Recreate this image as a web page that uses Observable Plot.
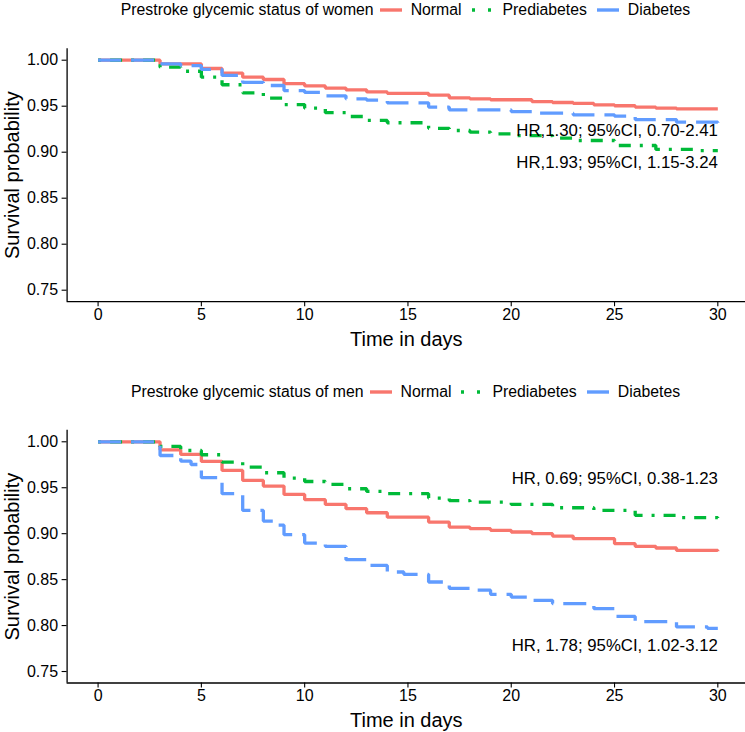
<!DOCTYPE html>
<html>
<head>
<meta charset="utf-8">
<script src="https://cdn.jsdelivr.net/npm/d3@7"></script>
<script src="https://cdn.jsdelivr.net/npm/@observablehq/plot@0.6"></script>
<style>
  html, body { margin: 0; padding: 0; background: #fff; overflow: hidden; }
  body { font-family: "Liberation Sans", Arial, Helvetica, sans-serif; color: #000; }
  #wrap { width: 745px; height: 732px; overflow: hidden; }
  .legend { width: 745px; box-sizing: border-box; display: flex; align-items: center; justify-content: center; font-size: 15.8px; white-space: nowrap; }
  .legend .ttl { margin-right: 6px; }
  .legend svg { display: block; margin-right: 9px; }
  .legend .lab { margin-right: 10px; }
  #wrap > svg { display: block; }
</style>
</head>
<body>
<div id="wrap"></div>
<script>
// ---------- data ----------
const groups = ["Normal", "Prediabetes", "Diabetes"];
const groupColors = ["#F8766D", "#00BA38", "#619CFF"];
const xTicks = [0, 5, 10, 15, 20, 25, 30];
const yTicks = [0.75, 0.80, 0.85, 0.90, 0.95, 1.00];

// Women
const womenNormalTime = [0, 3, 5, 6, 7, 8, 9, 10, 11, 12, 13, 14, 16, 17, 18, 19, 21, 22, 23, 24, 25, 26, 27, 28, 30];
const womenNormalSurv = [1, 0.996, 0.991, 0.986, 0.9815, 0.979, 0.9745, 0.972, 0.9697, 0.9678, 0.9655, 0.964, 0.962, 0.959, 0.958, 0.957, 0.955, 0.954, 0.953, 0.9515, 0.9505, 0.949, 0.948, 0.947, 0.947];
const womenPreTime = [0, 3, 4, 5, 6, 7, 8, 9, 10, 11, 12, 13, 14, 16, 17, 18, 19, 20, 22, 23, 25, 27, 29, 30];
const womenPreSurv = [1, 0.9924, 0.988, 0.9816, 0.9733, 0.9645, 0.9587, 0.9518, 0.9478, 0.943, 0.9388, 0.9345, 0.932, 0.926, 0.9236, 0.9218, 0.920, 0.918, 0.9152, 0.9127, 0.9073, 0.903, 0.9018, 0.9018];
const womenDiabTime = [0, 3, 4, 5, 6, 7, 8, 9, 10, 11, 12, 13, 14, 16, 17, 20, 21, 23, 25, 26, 28, 30];
const womenDiabSurv = [1, 0.9961, 0.994, 0.990, 0.9835, 0.976, 0.9725, 0.967, 0.965, 0.9613, 0.958, 0.9565, 0.9537, 0.949, 0.946, 0.9442, 0.9424, 0.9406, 0.9392, 0.9355, 0.9326, 0.932];
const womenHRText = ["HR,1.30; 95%CI, 0.70-2.41", "HR,1.93; 95%CI, 1.15-3.24"];
const womenHRSurv = [0.9236, 0.8891];

// Men
const menNormalTime = [0, 3, 4, 5, 6, 7, 8, 9, 10, 11, 12, 13, 14, 16, 17, 18, 19, 20, 21, 22, 23, 25, 26, 27, 28, 30];
const menNormalSurv = [1, 0.9913, 0.9862, 0.9786, 0.9688, 0.958, 0.9518, 0.9427, 0.937, 0.9318, 0.9272, 0.9228, 0.918, 0.9126, 0.9072, 0.9054, 0.9036, 0.9018, 0.900, 0.8974, 0.8946, 0.8891, 0.8862, 0.8844, 0.8818, 0.881];
const menPreTime = [0, 3, 4, 5, 6, 7, 8, 9, 10, 11, 12, 13, 14, 16, 17, 18, 20, 22, 24, 26, 28, 30];
const menPreSurv = [1, 0.9949, 0.9905, 0.9859, 0.9779, 0.9724, 0.9663, 0.9605, 0.9568, 0.9536, 0.9489, 0.946, 0.9435, 0.9387, 0.936, 0.9344, 0.9318, 0.9282, 0.9253, 0.920, 0.9174, 0.917];
const menDiabTime = [0, 3, 4, 4.5, 5, 6, 7, 8, 8.5, 9, 10, 11, 12, 13, 14, 14.8, 16, 17, 18, 19, 20, 21, 22, 24, 25, 26, 28, 29.5, 30];
const menDiabSurv = [1, 0.9851, 0.979, 0.9753, 0.9609, 0.9435, 0.9253, 0.9137, 0.9092, 0.8989, 0.8898, 0.8862, 0.8717, 0.8655, 0.8583, 0.8558, 0.8474, 0.8405, 0.8385, 0.834, 0.831, 0.8275, 0.8239, 0.8185, 0.810, 0.8043, 0.7985, 0.797, 0.797];
const menHRText = ["HR, 0.69; 95%CI, 0.38-1.23", "HR, 1.78; 95%CI, 1.02-3.12"];
const menHRSurv = [0.9598, 0.7786];

// ---------- helpers ----------
const FONT = '"Liberation Sans", Arial, Helvetica, sans-serif';
const dashes = ["none", "3,9,12,9", "23,10"];
const keyDashes = ["none", "3,13", "none"];

function toRows(times, surv) { return times.map((t, i) => ({t, s: surv[i]})); }

function legend(title, height) {
  const div = document.createElement("div");
  div.className = "legend";
  div.style.height = height + "px";
  div.style.paddingLeft = "76px";
  const t = document.createElement("span");
  t.className = "ttl"; t.textContent = title;
  div.appendChild(t);
  groups.forEach((g, i) => {
    const ns = "http://www.w3.org/2000/svg";
    const s = document.createElementNS(ns, "svg");
    s.setAttribute("width", 22); s.setAttribute("height", 12);
    const l = document.createElementNS(ns, "line");
    l.setAttribute("x1", 0); l.setAttribute("x2", 22);
    l.setAttribute("y1", 6); l.setAttribute("y2", 6);
    l.setAttribute("stroke", groupColors[i]);
    l.setAttribute("stroke-width", 3.4);
    if (keyDashes[i] !== "none") l.setAttribute("stroke-dasharray", keyDashes[i]);
    s.appendChild(l);
    div.appendChild(s);
    const lab = document.createElement("span");
    lab.className = "lab"; lab.textContent = g;
    div.appendChild(lab);
  });
  return div;
}

function panel(seriesList, hrText, hrSurv, height, marginTop, marginBottom) {
  const xDomain = [-1.5, 31.34];
  const yDomain = [0.7375, 1.0125];
  const lineMarks = seriesList.map((rows, i) => Plot.line(rows, {
    x: "t", y: "s", curve: "step-after",
    stroke: groupColors[i], strokeWidth: 3.3,
    strokeDasharray: dashes[i], strokeLinecap: "butt", strokeLinejoin: "miter"
  }));
  const hrRows = hrText.map((txt, i) => ({txt, s: hrSurv[i]}));
  return Plot.plot({
    width: 745, height,
    marginLeft: 66.6, marginRight: 0, marginTop, marginBottom,
    style: {fontFamily: FONT, fontSize: "16px", color: "#000", background: "#fff", overflow: "visible"},
    x: {domain: xDomain, ticks: xTicks},
    y: {domain: yDomain, ticks: yTicks, tickFormat: d3.format(".2f")},
    marks: [
      Plot.axisX({ticks: xTicks, tickSize: 5, tickPadding: 2, label: null, fontSize: 16, stroke: "#000", strokeWidth: 1.1}),
      Plot.axisY({ticks: yTicks, tickSize: 5, tickPadding: 4, label: null, fontSize: 16, tickFormat: d3.format(".2f"), stroke: "#000", strokeWidth: 1.1}),
      Plot.ruleX([xDomain[0]], {stroke: "#000", strokeWidth: 1.3}),
      Plot.ruleY([yDomain[0]], {stroke: "#000", strokeWidth: 1.3}),
      ...lineMarks,
      Plot.text(hrRows, {x: () => 30, y: "s", text: "txt", textAnchor: "end", fontSize: 16.8, fill: "#000"}),
      Plot.text(["Time in days"], {text: d => d, frameAnchor: "bottom", textAnchor: "middle", lineAnchor: "middle", dy: 38, fontSize: 20, fill: "#000"}),
      Plot.text(["Survival probability"], {text: d => d, frameAnchor: "left", textAnchor: "middle", lineAnchor: "middle", rotate: -90, dx: -54.6, fontSize: 20, fill: "#000"})
    ]
  });
}

const wrap = document.getElementById("wrap");
wrap.appendChild(legend("Prestroke glycemic status of women", 20));
wrap.appendChild(panel(
  [toRows(womenNormalTime, womenNormalSurv), toRows(womenPreTime, womenPreSurv), toRows(womenDiabTime, womenDiabSurv)],
  womenHRText, womenHRSurv, 364, 28.2, 82.8));
wrap.appendChild(legend("Prestroke glycemic status of men", 16));
wrap.appendChild(panel(
  [toRows(menNormalTime, menNormalSurv), toRows(menPreTime, menPreSurv), toRows(menDiabTime, menDiabSurv)],
  menHRText, menHRSurv, 332, 29.8, 49.5));
</script>
</body>
</html>
